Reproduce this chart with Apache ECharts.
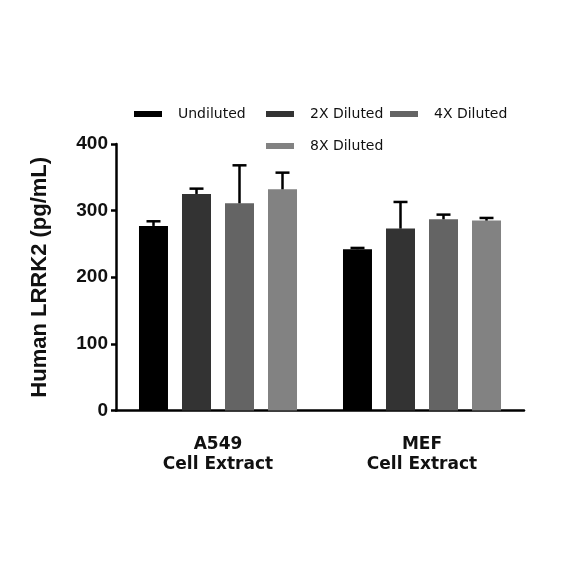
<!DOCTYPE html>
<html>
<head>
<meta charset="utf-8">
<script src="https://cdn.jsdelivr.net/npm/echarts@6/dist/echarts.min.js"></script>
<style>html,body{margin:0;padding:0;background:#fff}#c{width:584px;height:584px}</style>
</head>
<body>
<div id="c"></div>
<script>
const categories = ['A549\nCell Extract', 'MEF\nCell Extract'];
const seriesNames = ['Undiluted', '2X Diluted', '4X Diluted', '8X Diluted'];
const undiluted = [277, 242];
const diluted2x = [325, 273];
const diluted4x = [311, 287];
const diluted8x = [332, 285];
const undilutedErr = [7, 2];
const diluted2xErr = [8, 40];
const diluted4xErr = [57, 7];
const diluted8xErr = [25, 4];
const yTicks = [0, 100, 200, 300, 400];

const means = [undiluted, diluted2x, diluted4x, diluted8x];
const errs = [undilutedErr, diluted2xErr, diluted4xErr, diluted8xErr];
const colors = ['#000000', '#333333', '#646464', '#828282'];

const BAR_W = 29, BAR_GAP = 14;

const series = [];
means.forEach((m, i) => {
  series.push({
    name: seriesNames[i], type: 'bar', data: m,
    barWidth: BAR_W, barGap: (BAR_GAP / BAR_W * 100).toFixed(1) + '%',
    itemStyle: { color: colors[i] }, z: 2
  });
});
means.forEach((m, i) => {
  series.push({
    name: seriesNames[i] + ' err', type: 'custom', z: 3,
    data: m.map((v, k) => [k, v, v + errs[i][k]]),
    renderItem: function (params, api) {
      const c0 = api.coord([api.value(0), api.value(1)]);
      const c1 = api.coord([api.value(0), api.value(2)]);
      const x = c0[0] + (i - 1.5) * (BAR_W + BAR_GAP);
      const half = 7;
      return {
        type: 'group',
        children: [
          { type: 'line', shape: { x1: x, y1: c0[1], x2: x, y2: c1[1] }, style: { stroke: '#000', lineWidth: 2.5 } },
          { type: 'line', shape: { x1: x - half, y1: c1[1], x2: x + half, y2: c1[1] }, style: { stroke: '#000', lineWidth: 2.5 } }
        ]
      };
    }
  });
});

function legendAt(name, left, top) {
  return {
    data: [name], left: left, top: top, padding: 0, itemWidth: 28, itemHeight: 6,
    icon: 'rect', selectedMode: false,
    textStyle: { fontFamily: 'DejaVu Sans', fontSize: 14, color: '#111', padding: [0, 0, 0, 11] }
  };
}

const chart = echarts.init(document.getElementById('c'), null, { renderer: 'canvas' });
chart.setOption({
  animation: false,
  backgroundColor: '#fff',
  legend: [
    legendAt(seriesNames[0], 134, 107),
    legendAt(seriesNames[1], 266, 107),
    legendAt(seriesNames[2], 390, 107),
    legendAt(seriesNames[3], 266, 139)
  ],
  grid: { left: 116, right: 60, top: 144, bottom: 173.5, containLabel: false },
  xAxis: {
    type: 'category', data: categories,
    axisLine: { lineStyle: { color: '#000', width: 2.5 } },
    axisTick: { alignWithLabel: true, length: 9, lineStyle: { color: '#000', width: 2 } },
    axisLabel: { margin: 24, fontFamily: 'DejaVu Sans', fontWeight: 'bold', fontSize: 17, lineHeight: 20, color: '#111' }
  },
  yAxis: {
    type: 'value', min: yTicks[0], max: yTicks[yTicks.length - 1], interval: 100,
    name: 'Human LRRK2 (pg/mL)', nameLocation: 'middle', nameGap: 65,
    nameTextStyle: { fontFamily: 'Liberation Sans', fontWeight: 'bold', fontSize: 22, color: '#111' },
    splitLine: { show: false },
    axisLine: { show: true, lineStyle: { color: '#000', width: 2.5 } },
    axisTick: { show: true, length: 5, lineStyle: { color: '#000', width: 2.5 } },
    axisLabel: { margin: 8, fontFamily: 'Liberation Sans', fontWeight: 'bold', fontSize: 19, color: '#111' }
  },
  series: series
});
</script>
</body>
</html>
